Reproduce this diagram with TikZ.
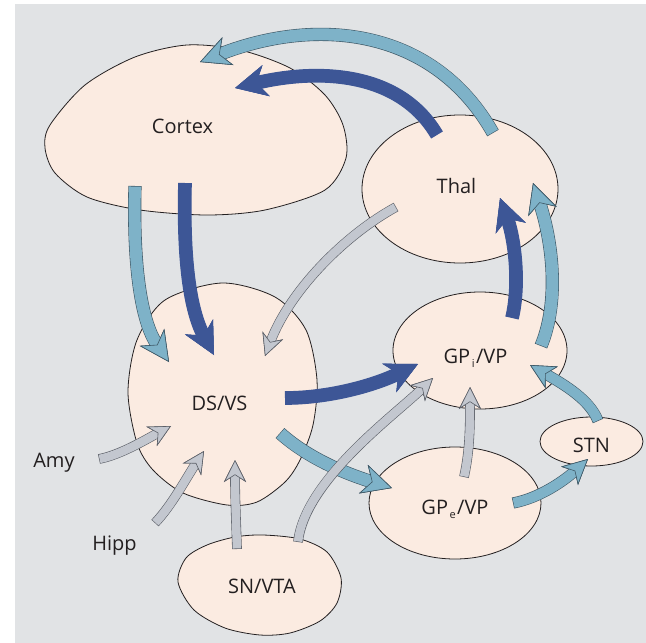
\documentclass[tikz,border=0pt]{standalone}
\usepackage{fontspec}
\setmainfont{Open Sans}
\usetikzlibrary{arrows.meta,shapes.geometric}
\definecolor{bg}{HTML}{E1E3E5}
\definecolor{blob}{HTML}{FBEBE1}
\definecolor{dkb}{HTML}{3D5696}
\definecolor{ltb}{HTML}{7EB2C8}
\definecolor{gra}{HTML}{C3C7CF}
\definecolor{ink}{HTML}{231F20}
\definecolor{lto}{HTML}{3E5866}
\definecolor{gro}{HTML}{5C6068}
% #1 fill colour, #2 outline colour, #3 shaft width, #4 tip geometry, #5 path
\newcommand\fatarrow[5]{%
  \draw[draw=#2, line width=#3+1.2pt, -{Stealth[#4, line width=0.6pt, fill=#2, color=#2]}] #5;
  \draw[draw=#1, line width=#3, shorten <=0.6pt, -{Stealth[#4, line width=0.6pt, fill=#1, color=#2]}] #5;
}
\newcommand\darkarrow[1]{\fatarrow{dkb}{dkb}{12.5pt}{length=32pt,width=32pt,inset=10pt}{#1}}
\newcommand\lightarrow[1]{\fatarrow{ltb}{lto}{12pt}{length=30pt,width=30pt,inset=9pt}{#1}}
\newcommand\smallarrow[1]{\fatarrow{ltb}{lto}{10pt}{length=25pt,width=25pt,inset=7pt}{#1}}
\newcommand\grayarrow[1]{\fatarrow{gra}{gro}{8.5pt}{length=22pt,width=22pt,inset=7pt}{#1}}
\newcommand\lsub[1]{\hspace{1.5pt}\raisebox{-4pt}{\fontsize{11}{11}\selectfont #1}\hspace{1.5pt}}
\begin{document}
\begin{tikzpicture}[x=1pt,y=-1pt,
  blobst/.style={fill=blob, draw=ink, line width=0.8pt},
  ellst/.style={blobst, ellipse, inner sep=0pt},
  lbl/.style={text=ink, font=\fontsize{20}{24}\selectfont, anchor=base, inner sep=0pt}]
\useasboundingbox (0,0) rectangle (646,643);
\fill[white] (0,0) rectangle (646,643);
\fill[bg] (15,4) rectangle (646,643);

% regions
\draw[blobst] plot[smooth cycle] coordinates {(50,125) (85,85) (135,57) (187,45) (240,50) (290,68) (325,95) (343,125) (346,158) (325,190) (265,210) (207,215) (140,210) (87,197) (55,173) (45,148)};
\draw[blobst] plot[smooth cycle] coordinates {(222,283) (275,297) (306,330) (317,380) (313,425) (300,460) (285,482) (257,502) (227,505) (183,493) (153,470) (137,443) (128,392) (137,340) (165,300)};
\draw[blobst] plot[smooth cycle] coordinates {(263,535) (300,539) (327,552) (341,578) (337,603) (320,621) (290,633) (260,635) (225,628) (194,610) (178,582) (186,558) (207,545) (235,537)};
\node[ellst, minimum width=196pt, minimum height=148pt] (thal) at (460,189) {};
\node[ellst, minimum width=174pt, minimum height=117pt] (gpi) at (480,350.5) {};
\node[ellst, minimum width=103pt, minimum height=49pt] (stn) at (591.5,441.5) {};
\node[ellst, minimum width=172pt, minimum height=112pt] (gpe) at (455,503) {};

% labels
\node[lbl] (cortex) at (182.5,133) {Cortex};
\node[lbl] (thalT) at (456.5,193) {Thal};
\node[lbl] (gpiT) at (475.5,363) {GP\lsub{i}/VP};
\node[lbl] (stnT) at (591.5,452) {STN};
\node[lbl] (gpeT) at (455,514) {GP\lsub{e}/VP};
\node[lbl] (ds) at (219.5,410) {DS/VS};
\node[lbl] (sn) at (262,593) {SN/VTA};
\node[lbl] (amy) at (54,467) {Amy};
\node[lbl] (hipp) at (114.5,550) {Hipp};

% connector end points
\coordinate (thA) at (493,133);  \coordinate (cxA) at (200,62);
\coordinate (thB) at (437,135);  \coordinate (cxB) at (235,88);
\coordinate (cxC) at (135,186);  \coordinate (dsC) at (169,362);
\coordinate (cxD) at (185,183);  \coordinate (dsD) at (214,355);
\coordinate (thE) at (396,207);  \coordinate (dsE) at (265,356);
\coordinate (dsF) at (285,398);  \coordinate (gpiF) at (418,364);
\coordinate (dsG) at (280,433);  \coordinate (gpeG) at (392,488);
\coordinate (gpiH) at (512,318); \coordinate (thH) at (500,198);
\coordinate (gpiI) at (541,346); \coordinate (thI) at (533,183);
\coordinate (stnJ) at (598,421); \coordinate (gpiJ) at (530,365);
\coordinate (gpeK) at (513,503); \coordinate (stnK) at (588,459);
\coordinate (gpeL) at (464,477); \coordinate (gpiL) at (470,387);
\coordinate (snM) at (298,542);  \coordinate (gpiM) at (433,378);
\coordinate (snN) at (237,549);  \coordinate (dsN) at (235,460);
\coordinate (hpO) at (155,523);  \coordinate (dsO) at (204,451);
\coordinate (amP) at (99,459);   \coordinate (dsP) at (171,426);

% connectors
\lightarrow{(thA) .. controls (435,30) and (320,15) .. (cxA)}
\darkarrow{(thB) .. controls (400,72) and (320,68) .. (cxB)}
\lightarrow{(cxC) .. controls (133,260) and (140,320) .. (dsC)}
\darkarrow{(cxD) .. controls (183,260) and (190,310) .. (dsD)}
\grayarrow{(thE) .. controls (345,235) and (290,290) .. (dsE)}
\darkarrow{(dsF) .. controls (330,398) and (375,385) .. (gpiF)}
\lightarrow{(dsG) .. controls (310,460) and (350,475) .. (gpeG)}
\darkarrow{(gpiH) .. controls (520,285) and (515,240) .. (thH)}
\lightarrow{(gpiI) .. controls (560,300) and (552,240) .. (thI)}
\smallarrow{(stnJ) .. controls (590,400) and (565,385) .. (gpiJ)}
\smallarrow{(gpeK) .. controls (540,498) and (565,480) .. (stnK)}
\grayarrow{(gpeL) .. controls (470,450) and (470,425) .. (gpiL)}
\grayarrow{(snM) .. controls (305,480) and (395,415) .. (gpiM)}
\grayarrow{(snN) .. controls (236,520) and (235,495) .. (dsN)}
\grayarrow{(hpO) .. controls (172,505) and (185,480) .. (dsO)}
\grayarrow{(amP) .. controls (120,455) and (145,440) .. (dsP)}
\end{tikzpicture}
\end{document}
